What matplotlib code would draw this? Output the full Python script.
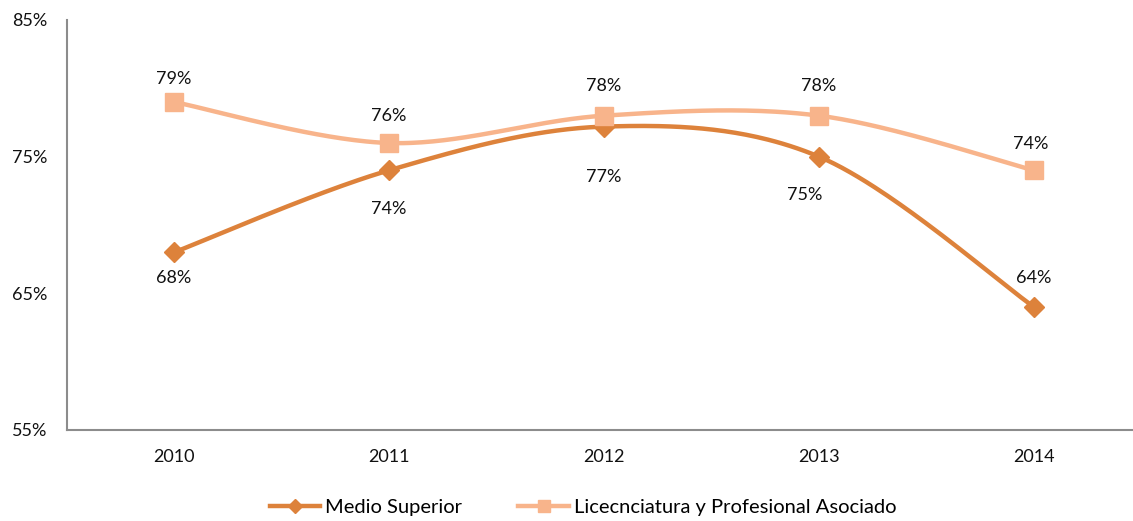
import numpy as np
import matplotlib.pyplot as plt
from matplotlib.lines import Line2D

plt.rcParams['font.family'] = ['Lato', 'DejaVu Sans']

years = ['2010', '2011', '2012', '2013', '2014']
medio_superior = [68, 74, 77.2, 75, 64]
licenciatura = [79, 76, 78, 78, 74]
medio_labels = ['68%', '74%', '77%', '75%', '64%']
lic_labels = ['79%', '76%', '78%', '78%', '74%']
y_ticks = [55, 65, 75, 85]

# label offsets in pixels (dy, positive = up)
medio_off = [(0, -26), (0, -39), (0, -50), (-14, -38), (0, 29)]
lic_off = [(0, 23), (0, 27), (0, 30), (0, 30), (-3, 26)]

dark = '#DD823B'
light = '#F8B48B'


def smooth(xs, ys, n=60):
    # bezier spline through points, similar to Excel smoothed lines
    pts = np.column_stack([xs, ys]).astype(float)
    out = []
    for i in range(len(pts) - 1):
        p0 = pts[max(i - 1, 0)]
        p1 = pts[i]
        p2 = pts[i + 1]
        p3 = pts[min(i + 2, len(pts) - 1)]
        c1 = p1 + (p2 - p0) / 6
        c2 = p2 - (p3 - p1) / 6
        t = np.linspace(0, 1, n)[:, None]
        seg = ((1 - t) ** 3) * p1 + 3 * ((1 - t) ** 2) * t * c1 + 3 * (1 - t) * t ** 2 * c2 + t ** 3 * p2
        out.append(seg if i == 0 else seg[1:])
    out = np.vstack(out)
    return out[:, 0], out[:, 1]


fig = plt.figure(figsize=(11.33, 5.21), dpi=100)
ax = fig.add_axes([66.5 / 1133, 1 - 430 / 521, 1075 / 1133, 410 / 521])

x = np.arange(len(years))
for vals, col, mk, ms, labels, offs in [
    (medio_superior, dark, 'D', 10, medio_labels, medio_off),
    (licenciatura, light, 's', 13, lic_labels, lic_off),
]:
    sx, sy = smooth(x, vals)
    ax.plot(sx, sy, color=col, lw=3.2, solid_capstyle='round', zorder=2)
    ax.plot(x, vals, ls='none', marker=mk, ms=ms, color=col, zorder=3)
    for xi, v, lab, (dx, dy) in zip(x, vals, labels, offs):
        ax.annotate(lab, (xi, v), xytext=(dx * 0.72, dy * 0.72), textcoords='offset points',
                    ha='center', va='center', fontsize=13, color='#111111')

ax.set_xlim(-0.5, len(years) - 0.5)
ax.set_ylim(55, 85)
ax.set_xticks(x)
ax.set_xticklabels(years)
ax.set_yticks(y_ticks)
ax.set_yticklabels([f'{t}%' for t in y_ticks])
ax.tick_params(length=0, labelsize=13, colors='#111111')
ax.tick_params(axis='y', pad=14)
ax.tick_params(axis='x', pad=14)
for s in ['top', 'right']:
    ax.spines[s].set_visible(False)
for s in ['left', 'bottom']:
    ax.spines[s].set_color('#8C8C8C')
    ax.spines[s].set_linewidth(1.5)

handles = [
    Line2D([], [], color=dark, lw=3.2, marker='D', ms=7),
    Line2D([], [], color=light, lw=3.2, marker='s', ms=9),
]
fig.legend(handles, ['Medio Superior', 'Licecnciatura y Profesional Asociado'],
           loc='center', bbox_to_anchor=(583 / 1133, 1 - 507 / 521), ncol=2,
           frameon=False, fontsize=14.5, handlelength=2.5, handletextpad=0.25,
           columnspacing=2.8)

fig.savefig('out.png', dpi=100)
